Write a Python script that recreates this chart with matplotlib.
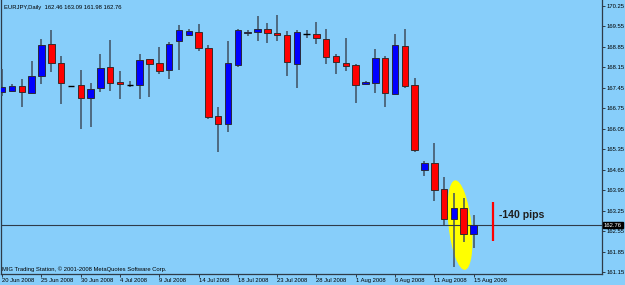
import matplotlib
matplotlib.use("Agg")
import matplotlib.pyplot as plt
import matplotlib.transforms as mtransforms
from matplotlib.patches import Ellipse
import numpy as np

# ---------------- data ----------------
symbol = "EURJPY,Daily"
opens = [167.31, 167.34, 167.51, 167.28, 167.86, 168.95, 168.30, 167.50, 167.55, 167.10,
         167.45, 168.16, 167.65, 167.54, 167.55, 168.43, 168.30, 168.06, 169.05, 169.26,
         169.36, 168.81, 166.49, 166.22, 168.23, 169.32, 169.35, 169.46, 169.32, 169.26,
         168.28, 169.28, 169.29, 169.13, 168.53, 168.30, 168.23, 167.59, 167.61, 168.48,
         167.25, 168.88, 167.55, 164.63, 164.89, 163.99, 162.97, 163.33, 162.46]
highs = [168.10, 167.58, 167.75, 168.37, 169.12, 169.43, 168.54, 167.53, 168.06, 167.62,
         168.61, 169.09, 168.03, 167.69, 168.61, 168.44, 168.85, 169.02, 169.60, 169.46,
         169.63, 168.92, 166.80, 169.06, 169.46, 169.43, 169.91, 169.68, 169.94, 169.40,
         169.43, 169.42, 169.70, 169.46, 168.60, 169.15, 168.27, 167.69, 168.77, 168.54,
         169.29, 169.45, 167.78, 164.96, 165.56, 164.39, 163.85, 163.70, 163.09]
lows = [167.17, 167.31, 166.80, 167.24, 167.58, 167.99, 166.90, 167.47, 166.04, 166.11,
        167.31, 167.34, 167.07, 167.48, 167.07, 167.14, 167.93, 167.75, 168.06, 169.21,
        168.71, 166.39, 165.26, 165.94, 168.16, 169.23, 169.05, 169.00, 169.06, 167.87,
        167.46, 169.15, 168.96, 168.26, 167.93, 168.03, 166.95, 167.54, 167.27, 166.81,
        167.22, 167.46, 165.27, 164.44, 163.59, 162.74, 161.34, 162.19, 161.98]
closes = [167.48, 167.51, 167.31, 167.86, 168.92, 168.30, 167.62, 167.50, 167.10, 167.41,
          168.13, 167.62, 167.58, 167.54, 168.40, 168.26, 168.03, 168.95, 169.43, 169.40,
          168.81, 166.46, 166.22, 168.30, 169.43, 169.36, 169.46, 169.32, 169.25, 168.35,
          169.36, 169.28, 169.15, 168.52, 168.33, 168.19, 167.55, 167.65, 168.46, 167.29,
          168.92, 167.53, 165.32, 164.87, 163.96, 162.97, 163.35, 162.45, 162.76]
date_labels = ["20 Jun 2008", "25 Jun 2008", "30 Jun 2008", "4 Jul 2008", "9 Jul 2008",
               "14 Jul 2008", "18 Jul 2008", "23 Jul 2008", "28 Jul 2008", "1 Aug 2008",
               "6 Aug 2008", "11 Aug 2008", "15 Aug 2008"]
label_step = 4
price_ticks = [170.25, 169.55, 168.85, 168.15, 167.45, 166.75, 166.05, 165.35,
               164.65, 163.95, 163.25, 162.55, 161.85, 161.15]
current_price = 162.76
move_top = 163.56
move_bottom = 162.22
move_bar = 50
move_text = "-140 pips"
footer = "MIG Trading Station, \u00a9 2001-2008 MetaQuotes Software Corp."

# ---------------- style ----------------
bg = "#87CEFA"
dark = "#2E3B48"
font = "Liberation Sans"
fs = 4.2

plt.rcParams['font.family'] = [font, 'DejaVu Sans']

fig = plt.figure(figsize=(6.25, 2.85), dpi=100, facecolor=bg)
ax = fig.add_axes([1.5 / 625, 11 / 285, 600.5 / 625, 274 / 285])
ax.set_facecolor(bg)

n = len(opens)
x = np.arange(n)
o = np.array(opens); c = np.array(closes); h = np.array(highs); l = np.array(lows)

# wicks
ax.vlines(x, l, h, color="#3F4F5F", lw=1.1, zorder=3)

# bodies
bw = 0.66
up = c > o
dn = c < o
dj = c == o
ax.bar(x[up], c[up] - o[up], bottom=o[up], width=bw, color="#0000FF",
       edgecolor="#2A2A3A", lw=0.7, zorder=4)
ax.bar(x[dn], o[dn] - c[dn], bottom=c[dn], width=bw, color="#FF0000",
       edgecolor="#3A2A2A", lw=0.7, zorder=4)
ax.hlines(o[dj], x[dj] - bw / 2, x[dj] + bw / 2, color="black", lw=1.0, zorder=4)

# current price line
ax.axhline(current_price, color=dark, lw=0.8, zorder=3.5)

# yellow highlight ellipse (pixel sized, centered in data coords)
ell_center_bar = 46.62
ell_center_price = 162.76
ell_w_px, ell_h_px, ell_angle = 23, 90, 6.3
trans = fig.dpi_scale_trans + mtransforms.ScaledTranslation(
    ell_center_bar, ell_center_price, ax.transData)
ax.add_patch(Ellipse((0, 0), ell_w_px / 100, ell_h_px / 100, angle=ell_angle,
                     transform=trans, facecolor="#FFFF00", edgecolor="none", zorder=2))

# red move marker + text
ax.vlines(move_bar, move_bottom, move_top, color="#FF0000", lw=1.6, zorder=5)
ax.text(move_bar + 0.62, 163.10, move_text, fontsize=7.6, fontweight="bold",
        color="#1E1E1E", va="center", ha="left", zorder=6)

# axes limits
ax.set_xlim(-0.07, 61.08)
ax.set_ylim(161.088, 170.455)

# spines
for s in ["left", "right", "bottom"]:
    ax.spines[s].set_color(dark)
    ax.spines[s].set_linewidth(0.9)
ax.spines["top"].set_visible(False)

# x ticks
ax.set_xticks(x[::label_step])
ax.set_xticklabels(date_labels, fontsize=fs, ha="left", color="black")
ax.tick_params(axis="x", direction="out", length=2.2, width=0.7, color=dark, pad=0.8)

# y ticks on right
ax.yaxis.tick_right()
ax.set_yticks(price_ticks)
ax.set_yticklabels([f"{p:.2f}" for p in price_ticks], fontsize=fs, color="black")
ax.tick_params(axis="y", direction="out", length=2.0, width=0.7, color=dark, pad=1.0)
ax.tick_params(axis="y", left=False)

# current price box
ax.text(1.003, current_price, f"{current_price:.2f}", transform=ax.get_yaxis_transform(),
        fontsize=fs, color="white", va="center", ha="left", zorder=10, clip_on=False,
        bbox=dict(boxstyle="square,pad=0.15", facecolor="black", edgecolor="black"))

# title
fig.text(3.5 / 625, 1 - 7 / 285,
         f"{symbol}  {opens[-1]:.2f} {highs[-1]:.2f} {lows[-1]:.2f} {closes[-1]:.2f}",
         fontsize=fs, color="black", va="center", ha="left")

# footer
fig.text(2.5 / 625, 1 - 269 / 285, footer, fontsize=fs, color="black", va="center", ha="left")

fig.savefig("out.png", dpi=100, facecolor=bg)
